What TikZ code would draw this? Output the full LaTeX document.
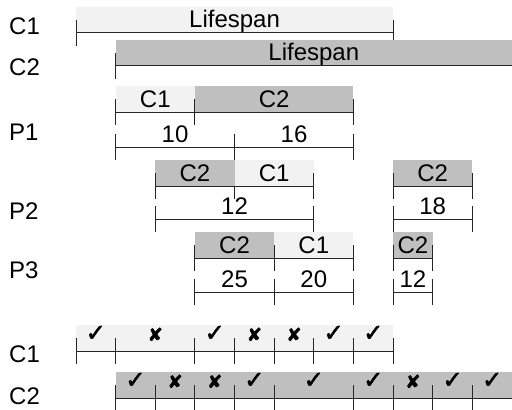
\documentclass[tikz,border=0pt]{standalone}
\usepackage{fontspec}
\setmainfont{Liberation Sans}
\newfontfamily\symfont[FakeBold=2]{DejaVu Sans}
\definecolor{lightfill}{HTML}{F2F2F2}
\definecolor{darkfill}{HTML}{BFBFBF}
% a filled band above a baseline rule: x1, x2, rule y, colour
\newcommand\bandfill[4]{\fill[#4] (#1,#3-26) rectangle (#2,#3);}
% a horizontal rule: x1, x2, y
\newcommand\segline[3]{\draw[rule] (#1,#3) -- (#2,#3);}
% a short vertical tick across a rule: x, rule y
\newcommand\tickat[2]{\draw[rule] (#1,#2-13) -- (#1,#2+13);}
% a text sitting on a rule: name, x, rule y, text
\newcommand\celltext[4]{\node[txt] (#1) at (#2,#3-5) {#4};}
\begin{document}
\begin{tikzpicture}[x=39.636pt,y=-1pt,
  rule/.style={line width=1pt,draw=black!85},
  txt/.style={font=\fontsize{24}{26}\selectfont,inner sep=0pt,anchor=base},
  rowlabel/.style={font=\fontsize{24}{26}\selectfont,inner sep=0pt,anchor=base west},
  okmark/.style={font=\symfont\fontsize{24}{24}\selectfont,inner sep=0pt,anchor=base},
  nomark/.style={font=\symfont\fontsize{18}{18}\selectfont,inner sep=0pt,anchor=base}]
\useasboundingbox (-1.91745,0) rectangle (11,409);

% row labels
\node[rowlabel] (lc1) at (-1.69,35) {C1};
\node[rowlabel] (lc2) at (-1.69,75) {C2};
\node[rowlabel] (lp1) at (-1.69,140) {P1};
\node[rowlabel] (lp2) at (-1.69,219) {P2};
\node[rowlabel] (lp3) at (-1.69,278) {P3};
\node[rowlabel] (lc1b) at (-1.69,362) {C1};
\node[rowlabel] (lc2b) at (-1.69,404) {C2};

% lifespans
\bandfill{0}{8}{33}{lightfill}
\segline{0}{8}{33}
\tickat{0}{33}\tickat{8}{33}
\celltext{life1}{4}{33}{Lifespan}

\bandfill{1}{11}{66}{darkfill}
\segline{1}{11}{66}
\tickat{1}{66}
\celltext{life2}{6}{66}{Lifespan}

% P1
\bandfill{1}{3}{112}{lightfill}
\bandfill{3}{7}{112}{darkfill}
\segline{1}{7}{112}
\tickat{1}{112}\tickat{3}{112}\tickat{7}{112}
\celltext{p1c1}{2}{112}{C1}
\celltext{p1c2}{5}{112}{C2}
\segline{1}{7}{147}
\tickat{1}{147}\tickat{7}{147}
\draw[rule] (4,134) -- (4,199);
\celltext{p1n1}{2.5}{147}{10}
\celltext{p1n2}{5.5}{147}{16}

% P2
\bandfill{2}{4}{186}{darkfill}
\bandfill{4}{6}{186}{lightfill}
\segline{2}{6}{186}
\tickat{2}{186}\tickat{6}{186}
\celltext{p2c2}{3}{186}{C2}
\celltext{p2c1}{5}{186}{C1}
\segline{2}{6}{219}
\tickat{2}{219}\tickat{6}{219}
\celltext{p2n1}{4}{219}{12}

\bandfill{8}{10}{186}{darkfill}
\segline{8}{10}{186}
\tickat{8}{186}\tickat{10}{186}
\celltext{p2c2r}{9}{186}{C2}
\segline{8}{10}{219}
\tickat{8}{219}\tickat{10}{219}
\celltext{p2n2}{9}{219}{18}

% P3
\bandfill{3}{5}{258}{darkfill}
\bandfill{5}{7}{258}{lightfill}
\segline{3}{7}{258}
\tickat{3}{258}\tickat{5}{258}\tickat{7}{258}
\celltext{p3c2}{4}{258}{C2}
\celltext{p3c1}{6}{258}{C1}
\segline{3}{7}{292}
\tickat{3}{292}\tickat{5}{292}\tickat{7}{292}
\celltext{p3n1}{4}{292}{25}
\celltext{p3n2}{6}{292}{20}

\bandfill{8}{9}{258}{darkfill}
\segline{8}{9}{258}
\tickat{8}{258}\tickat{9}{258}
\celltext{p3c2r}{8.5}{258}{C2}
\segline{8}{9}{292}
\tickat{8}{292}\tickat{9}{292}
\celltext{p3n3}{8.5}{292}{12}

% checks along C1
\bandfill{0}{8}{351}{lightfill}
\segline{0}{8}{351}
\foreach \t in {0,1,3,4,5,6,7,8} {\tickat{\t}{351}}
\foreach \x/\m [count=\i] in {0.5/ok,2/no,3.5/ok,4.5/no,5.5/no,6.5/ok,7.5/ok}
  {\node[\m mark] (ca\i) at (\x,341) {\ifnum\pdfstrcmp{\m}{ok}=0 ✓\else ✘\fi};}

% checks along C2
\bandfill{1}{11}{398}{darkfill}
\segline{1}{11}{398}
\foreach \t in {1,2,3,4,5,7,8,9,10} {\tickat{\t}{398}}
\foreach \x/\m [count=\i] in {1.5/ok,2.5/no,3.5/no,4.5/ok,6/ok,7.5/ok,8.5/no,9.5/ok,10.5/ok}
  {\node[\m mark] (cb\i) at (\x,388) {\ifnum\pdfstrcmp{\m}{ok}=0 ✓\else ✘\fi};}
\end{tikzpicture}
\end{document}
